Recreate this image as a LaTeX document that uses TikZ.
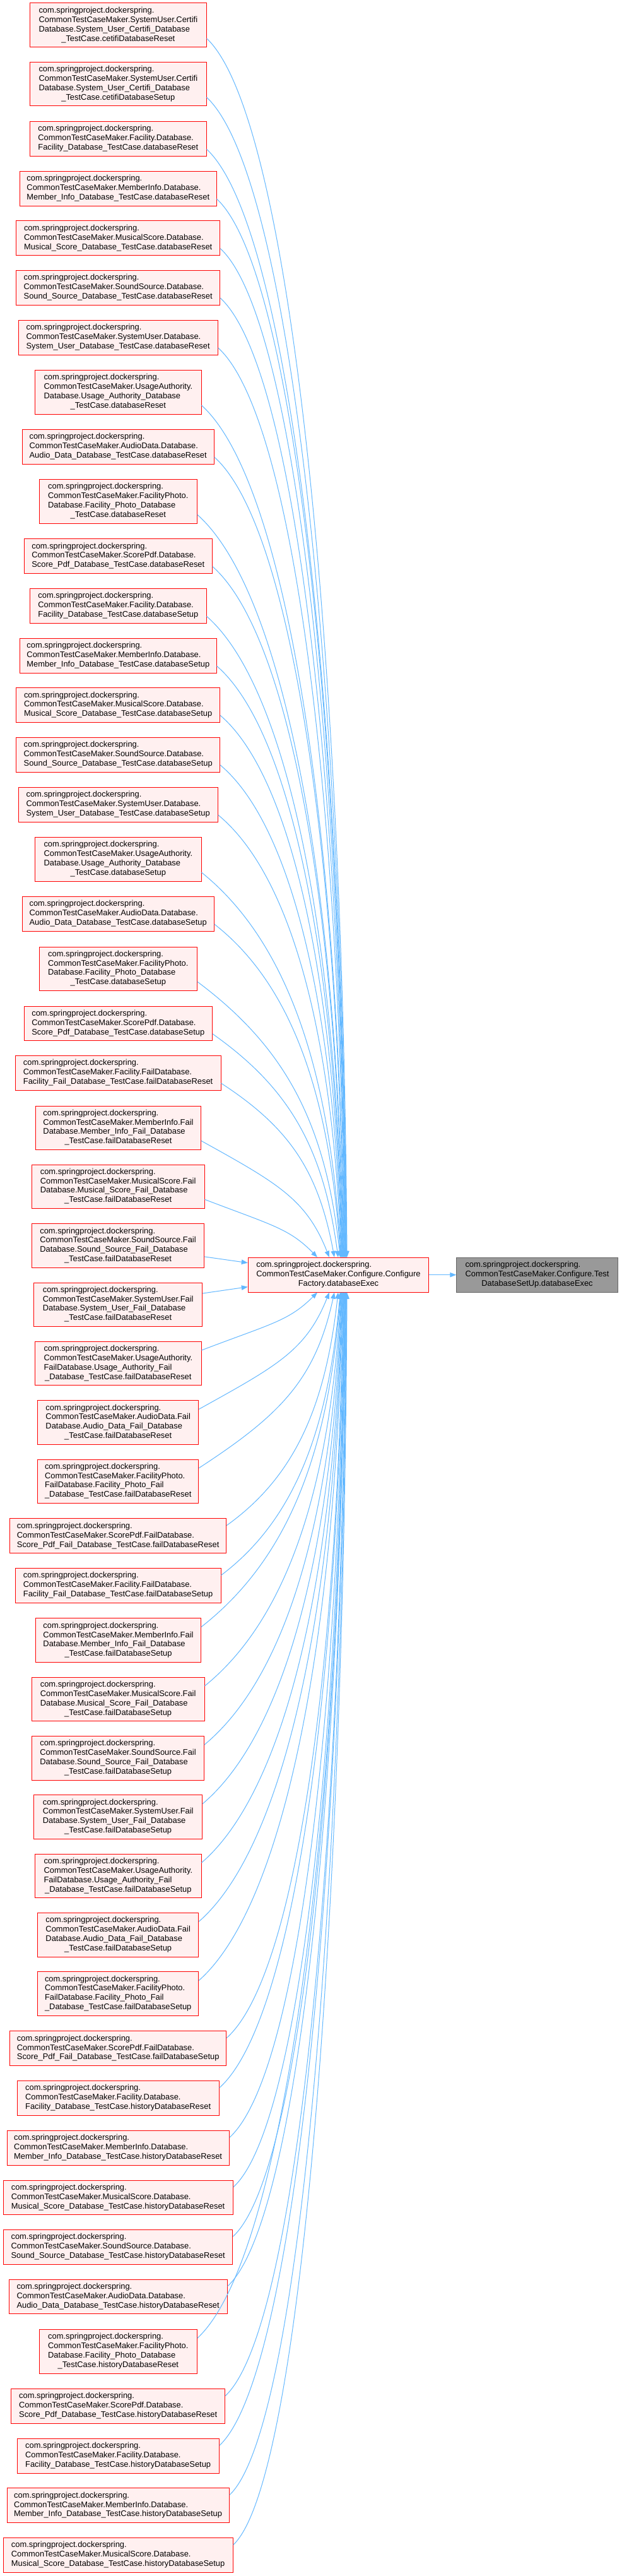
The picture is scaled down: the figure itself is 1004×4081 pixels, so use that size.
\documentclass[tikz,border=0pt]{standalone}
\usepackage{fontspec}
\setmainfont{Liberation Sans}
\usetikzlibrary{arrows.meta}
\definecolor{edgec}{HTML}{63B8FF}
\definecolor{boxfill}{HTML}{FFF0F0}
\definecolor{rootfill}{HTML}{999999}
\definecolor{rootdraw}{HTML}{666666}
\newcommand\csp{com.springproject.dockerspring.}
\newcommand\lastl[1]{\multicolumn{1}{@{}c@{}}{#1}}
\tikzset{
  box/.style={draw=red, fill=boxfill, line width=1pt, inner sep=0pt, rectangle,
    font=\fontsize{12.9}{14.9}\selectfont},
  rootbox/.style={box, draw=rootdraw, fill=rootfill},
  edge/.style={draw=edgec, line width=1pt, -{Triangle[length=10pt,width=7.5pt]}}
}
\newcommand\nd[6]{\node[box, minimum width={#4-#2}, minimum height={#5-#3}] (#1) at ({(#2+#4)/2},{(#3+#5)/2}) {\begin{tabular}{@{}l@{}}#6\end{tabular}};}
\newcommand\eup[5]{%
  \pgfmathsetmacro\hh{(#4-#3)/2}%
  \pgfmathsetmacro\ys{(#3+#4)/2+0.6*\hh}%
  \pgfmathsetmacro\dist{1992.3-\ys}%
  \pgfmathsetmacro\ddx{#5-#2}%
  \pgfmathsetmacro\cax{#2+0.6*\ddx}%
  \pgfmathsetmacro\cay{\ys+0.6*\ddx*(\dist/(\dist+150))}%
  \pgfmathsetmacro\cbx{#5-0.4*\ddx*(150/(\dist+150))}%
  \pgfmathsetmacro\cby{1992.3-0.5*\dist}%
  \pgfmathsetmacro\off{0.6*\hh}%
  \pgfmathsetmacro\sh{#5-536.5}%
  \draw[edge] ([yshift=-\off pt]#1.east) .. controls (\cax,\cay) and (\cbx,\cby) .. ([xshift=\sh pt]M.north);}
\newcommand\edn[5]{%
  \pgfmathsetmacro\hh{(#4-#3)/2}%
  \pgfmathsetmacro\ys{(#3+#4)/2-0.6*\hh}%
  \pgfmathsetmacro\dist{\ys-2047}%
  \pgfmathsetmacro\ddx{#5-#2}%
  \pgfmathsetmacro\cax{#2+0.6*\ddx}%
  \pgfmathsetmacro\cay{\ys-0.6*\ddx*(\dist/(\dist+150))}%
  \pgfmathsetmacro\cbx{#5-0.4*\ddx*(150/(\dist+150))}%
  \pgfmathsetmacro\cby{2047+0.5*\dist}%
  \pgfmathsetmacro\off{0.6*\hh}%
  \pgfmathsetmacro\sh{#5-536.5}%
  \draw[edge] ([yshift=\off pt]#1.east) .. controls (\cax,\cay) and (\cbx,\cby) .. ([xshift=\sh pt]M.south);}
\begin{document}
\begin{tikzpicture}[x=1pt,y=-1pt]
\fill[white] (0,0) rectangle (1004,4081);
\useasboundingbox (0,0) rectangle (1004,4081);
% left column
\nd{N1}{47.7}{5}{327}{74.7}{\csp\\CommonTestCaseMaker.SystemUser.Certifi\\Database.System\_User\_Certifi\_Database\\\lastl{\_TestCase.cetifiDatabaseReset}}
\nd{N2}{47.7}{98.7}{327}{168}{\csp\\CommonTestCaseMaker.SystemUser.Certifi\\Database.System\_User\_Certifi\_Database\\\lastl{\_TestCase.cetifiDatabaseSetup}}
\nd{N3}{47.7}{192.3}{327}{247.3}{\csp\\CommonTestCaseMaker.Facility.Database.\\\lastl{Facility\_Database\_TestCase.databaseReset}}
\nd{N4}{31.7}{271.3}{343}{326}{\csp\\CommonTestCaseMaker.MemberInfo.Database.\\\lastl{Member\_Info\_Database\_TestCase.databaseReset}}
\nd{N5}{25.7}{349.7}{348.7}{404.7}{\csp\\CommonTestCaseMaker.MusicalScore.Database.\\\lastl{Musical\_Score\_Database\_TestCase.databaseReset}}
\nd{N6}{25.7}{428.7}{348.7}{483}{\csp\\CommonTestCaseMaker.SoundSource.Database.\\\lastl{Sound\_Source\_Database\_TestCase.databaseReset}}
\nd{N7}{29}{507.3}{345.3}{562}{\csp\\CommonTestCaseMaker.SystemUser.Database.\\\lastl{System\_User\_Database\_TestCase.databaseReset}}
\nd{N8}{55.7}{586.7}{319}{656}{\csp\\CommonTestCaseMaker.UsageAuthority.\\Database.Usage\_Authority\_Database\\\lastl{\_TestCase.databaseReset}}
\nd{N9}{35}{680.7}{339.3}{735}{\csp\\CommonTestCaseMaker.AudioData.Database.\\\lastl{Audio\_Data\_Database\_TestCase.databaseReset}}
\nd{N10}{62.3}{759.3}{312.3}{829.3}{\csp\\CommonTestCaseMaker.FacilityPhoto.\\Database.Facility\_Photo\_Database\\\lastl{\_TestCase.databaseReset}}
\nd{N11}{38.3}{853.7}{336.3}{908.3}{\csp\\CommonTestCaseMaker.ScorePdf.Database.\\\lastl{Score\_Pdf\_Database\_TestCase.databaseReset}}
\nd{N12}{47.7}{932.3}{327}{987.3}{\csp\\CommonTestCaseMaker.Facility.Database.\\\lastl{Facility\_Database\_TestCase.databaseSetup}}
\nd{N13}{31.7}{1011}{343}{1066}{\csp\\CommonTestCaseMaker.MemberInfo.Database.\\\lastl{Member\_Info\_Database\_TestCase.databaseSetup}}
\nd{N14}{25.7}{1089.7}{348.7}{1144.3}{\csp\\CommonTestCaseMaker.MusicalScore.Database.\\\lastl{Musical\_Score\_Database\_TestCase.databaseSetup}}
\nd{N15}{25.7}{1168.3}{348.7}{1223}{\csp\\CommonTestCaseMaker.SoundSource.Database.\\\lastl{Sound\_Source\_Database\_TestCase.databaseSetup}}
\nd{N16}{29}{1247.3}{345.3}{1302}{\csp\\CommonTestCaseMaker.SystemUser.Database.\\\lastl{System\_User\_Database\_TestCase.databaseSetup}}
\nd{N17}{55.7}{1326.7}{319}{1396}{\csp\\CommonTestCaseMaker.UsageAuthority.\\Database.Usage\_Authority\_Database\\\lastl{\_TestCase.databaseSetup}}
\nd{N18}{35}{1420.3}{339.3}{1475}{\csp\\CommonTestCaseMaker.AudioData.Database.\\\lastl{Audio\_Data\_Database\_TestCase.databaseSetup}}
\nd{N19}{62.3}{1500}{312.3}{1569}{\csp\\CommonTestCaseMaker.FacilityPhoto.\\Database.Facility\_Photo\_Database\\\lastl{\_TestCase.databaseSetup}}
\nd{N20}{38.3}{1594}{336.3}{1648.7}{\csp\\CommonTestCaseMaker.ScorePdf.Database.\\\lastl{Score\_Pdf\_Database\_TestCase.databaseSetup}}
\nd{N21}{24.3}{1672.3}{350}{1727}{\csp\\CommonTestCaseMaker.Facility.FailDatabase.\\\lastl{Facility\_Fail\_Database\_TestCase.failDatabaseReset}}
\nd{N22}{56.7}{1752}{318.3}{1821}{\csp\\CommonTestCaseMaker.MemberInfo.Fail\\Database.Member\_Info\_Fail\_Database\\\lastl{\_TestCase.failDatabaseReset}}
\nd{N23}{50.3}{1845}{324}{1914}{\csp\\CommonTestCaseMaker.MusicalScore.Fail\\Database.Musical\_Score\_Fail\_Database\\\lastl{\_TestCase.failDatabaseReset}}
\nd{N24}{50.7}{1938.7}{323.3}{2008}{\csp\\CommonTestCaseMaker.SoundSource.Fail\\Database.Sound\_Source\_Fail\_Database\\\lastl{\_TestCase.failDatabaseReset}}
\nd{N25}{53.7}{2032}{320.7}{2101}{\csp\\CommonTestCaseMaker.SystemUser.Fail\\Database.System\_User\_Fail\_Database\\\lastl{\_TestCase.failDatabaseReset}}
\nd{N26}{55.7}{2125.3}{319}{2194.3}{\csp\\CommonTestCaseMaker.UsageAuthority.\\FailDatabase.Usage\_Authority\_Fail\\\lastl{\_Database\_TestCase.failDatabaseReset}}
\nd{N27}{59.7}{2218.7}{314.7}{2288}{\csp\\CommonTestCaseMaker.AudioData.Fail\\Database.Audio\_Data\_Fail\_Database\\\lastl{\_TestCase.failDatabaseReset}}
\nd{N28}{59.7}{2312}{314.7}{2381}{\csp\\CommonTestCaseMaker.FacilityPhoto.\\FailDatabase.Facility\_Photo\_Fail\\\lastl{\_Database\_TestCase.failDatabaseReset}}
\nd{N29}{15.7}{2405.7}{358.7}{2460.7}{\csp\\CommonTestCaseMaker.ScorePdf.FailDatabase.\\\lastl{Score\_Pdf\_Fail\_Database\_TestCase.failDatabaseReset}}
\nd{N30}{24.3}{2484.7}{350}{2539}{\csp\\CommonTestCaseMaker.Facility.FailDatabase.\\\lastl{Facility\_Fail\_Database\_TestCase.failDatabaseSetup}}
\nd{N31}{56.7}{2563.7}{318.3}{2633.3}{\csp\\CommonTestCaseMaker.MemberInfo.Fail\\Database.Member\_Info\_Fail\_Database\\\lastl{\_TestCase.failDatabaseSetup}}
\nd{N32}{50.3}{2657}{324}{2726.7}{\csp\\CommonTestCaseMaker.MusicalScore.Fail\\Database.Musical\_Score\_Fail\_Database\\\lastl{\_TestCase.failDatabaseSetup}}
\nd{N33}{50.7}{2750.3}{323.3}{2820}{\csp\\CommonTestCaseMaker.SoundSource.Fail\\Database.Sound\_Source\_Fail\_Database\\\lastl{\_TestCase.failDatabaseSetup}}
\nd{N34}{53.7}{2843.7}{320.7}{2913}{\csp\\CommonTestCaseMaker.SystemUser.Fail\\Database.System\_User\_Fail\_Database\\\lastl{\_TestCase.failDatabaseSetup}}
\nd{N35}{55.7}{2937}{319}{3006.7}{\csp\\CommonTestCaseMaker.UsageAuthority.\\FailDatabase.Usage\_Authority\_Fail\\\lastl{\_Database\_TestCase.failDatabaseSetup}}
\nd{N36}{59.7}{3030.3}{314.7}{3100}{\csp\\CommonTestCaseMaker.AudioData.Fail\\Database.Audio\_Data\_Fail\_Database\\\lastl{\_TestCase.failDatabaseSetup}}
\nd{N37}{59.7}{3123.7}{314.7}{3193}{\csp\\CommonTestCaseMaker.FacilityPhoto.\\FailDatabase.Facility\_Photo\_Fail\\\lastl{\_Database\_TestCase.failDatabaseSetup}}
\nd{N38}{15.7}{3217.7}{358.7}{3272.3}{\csp\\CommonTestCaseMaker.ScorePdf.FailDatabase.\\\lastl{Score\_Pdf\_Fail\_Database\_TestCase.failDatabaseSetup}}
\nd{N39}{27}{3296.7}{347.3}{3351}{\csp\\CommonTestCaseMaker.Facility.Database.\\\lastl{Facility\_Database\_TestCase.historyDatabaseReset}}
\nd{N40}{11}{3375.3}{363.3}{3430}{\csp\\CommonTestCaseMaker.MemberInfo.Database.\\\lastl{Member\_Info\_Database\_TestCase.historyDatabaseReset}}
\nd{N41}{5}{3454}{369.3}{3508.7}{\csp\\CommonTestCaseMaker.MusicalScore.Database.\\\lastl{Musical\_Score\_Database\_TestCase.historyDatabaseReset}}
\nd{N42}{5.7}{3532.3}{368.7}{3587}{\csp\\CommonTestCaseMaker.SoundSource.Database.\\\lastl{Sound\_Source\_Database\_TestCase.historyDatabaseReset}}
\nd{N43}{14.3}{3611.3}{360}{3665.7}{\csp\\CommonTestCaseMaker.AudioData.Database.\\\lastl{Audio\_Data\_Database\_TestCase.historyDatabaseReset}}
\nd{N44}{62.3}{3690.3}{312.3}{3760}{\csp\\CommonTestCaseMaker.FacilityPhoto.\\Database.Facility\_Photo\_Database\\\lastl{\_TestCase.historyDatabaseReset}}
\nd{N45}{17.7}{3784.7}{356.7}{3839}{\csp\\CommonTestCaseMaker.ScorePdf.Database.\\\lastl{Score\_Pdf\_Database\_TestCase.historyDatabaseReset}}
\nd{N46}{27}{3863.3}{347.3}{3918}{\csp\\CommonTestCaseMaker.Facility.Database.\\\lastl{Facility\_Database\_TestCase.historyDatabaseSetup}}
\nd{N47}{11}{3941.7}{363.3}{3996.3}{\csp\\CommonTestCaseMaker.MemberInfo.Database.\\\lastl{Member\_Info\_Database\_TestCase.historyDatabaseSetup}}
\nd{N48}{5}{4020.7}{369.3}{4075}{\csp\\CommonTestCaseMaker.MusicalScore.Database.\\\lastl{Musical\_Score\_Database\_TestCase.historyDatabaseSetup}}
% middle and root
\node[box, minimum width=286.4, minimum height=54.7] (M) at (536.5,2019.65) {\begin{tabular}{@{}l@{}}\csp\\CommonTestCaseMaker.Configure.Configure\\\lastl{Factory.databaseExec}\end{tabular}};
\node[rootbox, minimum width=255.5, minimum height=54.7] (R) at (851.5,2019.65) {\begin{tabular}{@{}l@{}}\csp\\CommonTestCaseMaker.Configure.Test\\\lastl{DatabaseSetUp.databaseExec}\end{tabular}};
% edges
\eup{N1}{327}{5}{74.7}{550}
\eup{N2}{327}{98.7}{168}{549.4}
\eup{N3}{327}{192.3}{247.3}{548.8}
\eup{N4}{343}{271.3}{326}{548.2}
\eup{N5}{348.7}{349.7}{404.7}{547.6}
\eup{N6}{348.7}{428.7}{483}{547}
\eup{N7}{345.3}{507.3}{562}{546.4}
\eup{N8}{319}{586.7}{656}{545.8}
\eup{N9}{339.3}{680.7}{735}{545.2}
\eup{N10}{312.3}{759.3}{829.3}{544.6}
\eup{N11}{336.3}{853.7}{908.3}{544}
\eup{N12}{327}{932.3}{987.3}{543.4}
\eup{N13}{343}{1011}{1066}{542.8}
\eup{N14}{348.7}{1089.7}{1144.3}{542.2}
\eup{N15}{348.7}{1168.3}{1223}{541.6}
\eup{N16}{345.3}{1247.3}{1302}{541}
\eup{N17}{319}{1326.7}{1396}{540.4}
\eup{N18}{339.3}{1420.3}{1475}{539.8}
\eup{N19}{312.3}{1500}{1569}{539.2}
\eup{N20}{336.3}{1594}{1648.7}{536}
\eup{N21}{350}{1672.3}{1727}{530}
\eup{N22}{318.3}{1752}{1821}{522}
\eup{N23}{324}{1845}{1914}{503}
\draw[edge] ([yshift=-17.5pt]N24.east) -- ([yshift=19pt]M.west);
\draw[edge] ([yshift=17.5pt]N25.east) -- ([yshift=-19pt]M.west);
\edn{N26}{319}{2125.3}{2194.3}{503}
\edn{N27}{314.7}{2218.7}{2288}{522}
\edn{N28}{314.7}{2312}{2381}{530}
\edn{N29}{358.7}{2405.7}{2460.7}{536}
\edn{N30}{350}{2484.7}{2539}{539.2}
\edn{N31}{318.3}{2563.7}{2633.3}{539.8}
\edn{N32}{324}{2657}{2726.7}{540.4}
\edn{N33}{323.3}{2750.3}{2820}{541}
\edn{N34}{320.7}{2843.7}{2913}{541.6}
\edn{N35}{319}{2937}{3006.7}{542.2}
\edn{N36}{314.7}{3030.3}{3100}{542.8}
\edn{N37}{314.7}{3123.7}{3193}{543.4}
\edn{N38}{358.7}{3217.7}{3272.3}{544}
\edn{N39}{347.3}{3296.7}{3351}{544.6}
\edn{N40}{363.3}{3375.3}{3430}{545.2}
\edn{N41}{369.3}{3454}{3508.7}{545.8}
\edn{N42}{368.7}{3532.3}{3587}{546.4}
\edn{N43}{360}{3611.3}{3665.7}{547}
\edn{N44}{312.3}{3690.3}{3760}{547.6}
\edn{N45}{356.7}{3784.7}{3839}{548.2}
\edn{N46}{347.3}{3863.3}{3918}{548.8}
\edn{N47}{363.3}{3941.7}{3996.3}{549.4}
\edn{N48}{369.3}{4020.7}{4075}{550}
\draw[edge] (M) -- (R);
\end{tikzpicture}
\end{document}
